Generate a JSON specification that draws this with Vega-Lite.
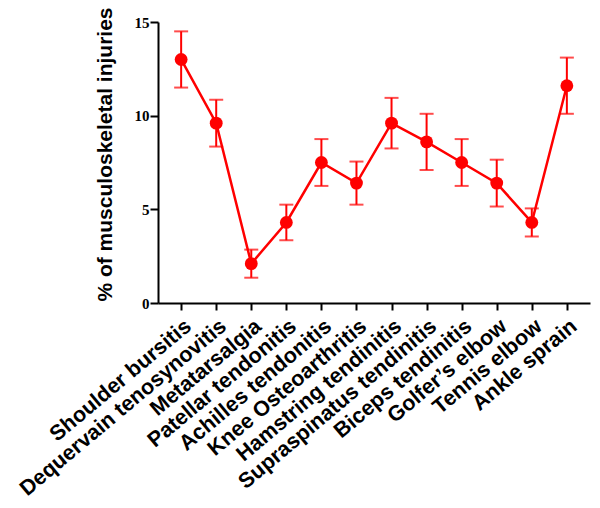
{
  "$schema": "https://vega.github.io/schema/vega-lite/v6.json",
  "width": 432,
  "height": 281,
  "autosize": {"type": "none"},
  "padding": {"left": 158, "top": 22, "right": 10, "bottom": 205},
  "background": "white",
  "config": {
    "view": {"stroke": null},
    "axis": {"grid": false, "domainColor": "black", "tickColor": "black", "domainWidth": 2, "tickWidth": 2, "labelColor": "black", "titleColor": "black"}
  },
  "data": {
    "values": [
      {"injury": "Shoulder bursitis", "pct": 13.0, "lo": 11.5, "hi": 14.5},
      {"injury": "Dequervain tenosynovitis", "pct": 9.6, "lo": 8.35, "hi": 10.85},
      {"injury": "Metatarsalgia", "pct": 2.1, "lo": 1.35, "hi": 2.85},
      {"injury": "Patellar tendonitis", "pct": 4.3, "lo": 3.35, "hi": 5.25},
      {"injury": "Achilles tendonitis", "pct": 7.5, "lo": 6.25, "hi": 8.75},
      {"injury": "Knee Osteoarthritis", "pct": 6.4, "lo": 5.25, "hi": 7.55},
      {"injury": "Hamstring tendinitis", "pct": 9.6, "lo": 8.25, "hi": 10.95},
      {"injury": "Supraspinatus tendinitis", "pct": 8.6, "lo": 7.1, "hi": 10.1},
      {"injury": "Biceps tendinitis", "pct": 7.5, "lo": 6.25, "hi": 8.75},
      {"injury": "Golfer’s elbow", "pct": 6.4, "lo": 5.15, "hi": 7.65},
      {"injury": "Tennis elbow", "pct": 4.3, "lo": 3.55, "hi": 5.05},
      {"injury": "Ankle sprain", "pct": 11.6, "lo": 10.1, "hi": 13.1}
    ]
  },
  "encoding": {
    "x": {
      "field": "injury", "type": "nominal", "sort": null,
      "scale": {"type": "point", "padding": 0.66},
      "axis": {"title": null, "labelAngle": -40, "labelFont": "Liberation Sans", "labelFontWeight": "bold", "labelFontSize": 21.5, "tickSize": 7, "labelPadding": 5, "labelLimit": 400}
    }
  },
  "layer": [
    {
      "mark": {"type": "rule", "color": "#ff0000", "strokeWidth": 2},
      "encoding": {
        "y": {"field": "lo", "type": "quantitative"},
        "y2": {"field": "hi"}
      }
    },
    {
      "mark": {"type": "tick", "color": "#ff0000", "thickness": 2, "size": 14, "orient": "horizontal"},
      "encoding": {"y": {"field": "lo", "type": "quantitative"}}
    },
    {
      "mark": {"type": "tick", "color": "#ff0000", "thickness": 2, "size": 14, "orient": "horizontal"},
      "encoding": {"y": {"field": "hi", "type": "quantitative"}}
    },
    {
      "mark": {"type": "line", "color": "#ff0000", "strokeWidth": 2.5},
      "encoding": {"y": {"field": "pct", "type": "quantitative"}}
    },
    {
      "mark": {"type": "point", "shape": "circle", "filled": true, "color": "#ff0000", "size": 165, "opacity": 1},
      "encoding": {
        "y": {
          "field": "pct", "type": "quantitative",
          "scale": {"domain": [0, 15], "nice": false},
          "axis": {"title": "% of musculoskeletal injuries", "values": [0, 5, 10, 15], "tickSize": 8, "labelPadding": 1, "labelFont": "Liberation Serif", "labelFontWeight": "bold", "labelFontSize": 15, "titleFont": "Liberation Sans", "titleFontWeight": "bold", "titleFontSize": 21, "titlePadding": 19, "titleY": 132}
        }
      }
    }
  ]
}
